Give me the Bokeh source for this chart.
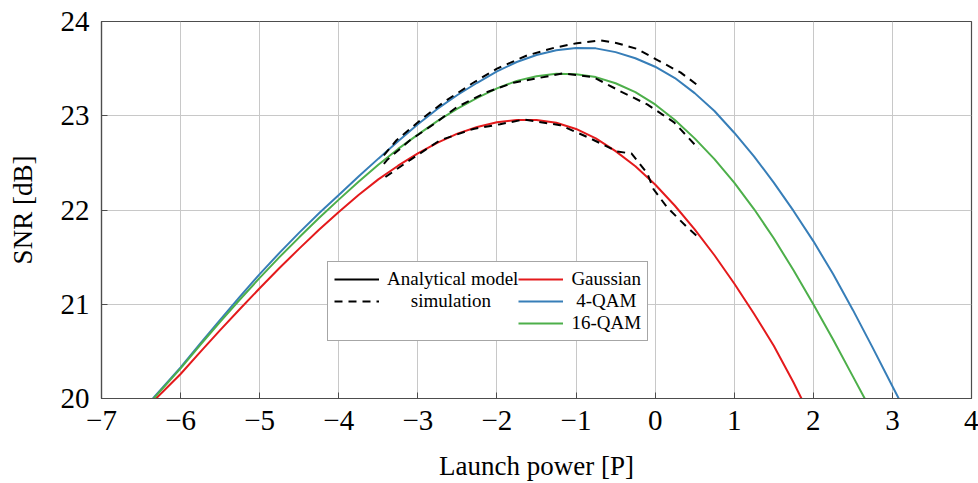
from bokeh.plotting import figure
from bokeh.models import Range1d, FixedTicker, Legend, LegendItem
from bokeh.embed import file_html
from bokeh.resources import INLINE

# ---------------- data ----------------
x_ticks = [-7, -6, -5, -4, -3, -2, -1, 0, 1, 2, 3, 4]
y_ticks = [20, 21, 22, 23, 24]

# Analytical model
gauss_x = [-6.31, -6, -5.75, -5.5, -5.25, -5, -4.75, -4.5, -4.25, -4, -3.75, -3.5, -3.25, -3,
           -2.75, -2.5, -2.25, -2, -1.75, -1.5, -1.25, -1, -0.75, -0.5, -0.25, 0,
           0.25, 0.5, 0.75, 1, 1.25, 1.5, 1.75, 1.85]
gauss_y = [20.0, 20.26, 20.495, 20.725, 20.95, 21.17, 21.385, 21.59, 21.79, 21.98, 22.16, 22.325, 22.47, 22.60,
           22.715, 22.81, 22.88, 22.93, 22.955, 22.955, 22.925, 22.86, 22.76, 22.625, 22.465, 22.27,
           22.045, 21.795, 21.52, 21.22, 20.90, 20.56, 20.17, 20.0]

qam4_x = [-6.35, -6, -5.75, -5.5, -5.25, -5, -4.75, -4.5, -4.25, -4, -3.75, -3.5, -3.25, -3,
          -2.75, -2.5, -2.25, -2, -1.75, -1.5, -1.25, -1, -0.75, -0.5, -0.25, 0,
          0.25, 0.5, 0.75, 1, 1.25, 1.5, 1.75, 2, 2.25, 2.5, 2.75, 3, 3.08]
qam4_y = [20.0, 20.33, 20.585, 20.835, 21.08, 21.32, 21.545, 21.76, 21.965, 22.16, 22.355, 22.545, 22.73, 22.91,
          23.075, 23.22, 23.35, 23.47, 23.57, 23.645, 23.695, 23.72, 23.715, 23.675, 23.61, 23.52,
          23.40, 23.24, 23.05, 22.82, 22.57, 22.29, 21.99, 21.67, 21.32, 20.94, 20.54, 20.13, 20.0]

qam16_x = [-6.34, -6, -5.75, -5.5, -5.25, -5, -4.75, -4.5, -4.25, -4, -3.75, -3.5, -3.25, -3,
           -2.75, -2.5, -2.25, -2, -1.75, -1.5, -1.25, -1, -0.75, -0.5, -0.25, 0,
           0.25, 0.5, 0.75, 1, 1.25, 1.5, 1.75, 2, 2.25, 2.5, 2.65]
qam16_y = [20.0, 20.32, 20.57, 20.813, 21.05, 21.28, 21.50, 21.71, 21.915, 22.11, 22.30, 22.48, 22.648, 22.80,
           22.945, 23.075, 23.19, 23.29, 23.37, 23.42, 23.445, 23.44, 23.41, 23.345, 23.25, 23.12,
           22.955, 22.76, 22.54, 22.29, 22.01, 21.70, 21.36, 21.0, 20.625, 20.235, 20.0]

# Simulation
sim4_x = [-3.43, -3.27, -2.93, -2.68, -2.30, -2.0, -1.62, -1.28, -0.99, -0.69, -0.48, -0.23, 0.03, 0.32, 0.56]
sim4_y = [22.58, 22.74, 22.98, 23.14, 23.35, 23.50, 23.64, 23.72, 23.77, 23.80, 23.77, 23.71, 23.59, 23.46, 23.31]

sim16_x = [-3.43, -3.39, -3.10, -2.80, -2.51, -2.13, -1.79, -1.54, -1.16, -0.78, -0.44, -0.10, 0.24, 0.55]
sim16_y = [22.49, 22.53, 22.74, 22.91, 23.09, 23.25, 23.35, 23.39, 23.45, 23.41, 23.26, 23.12, 22.93, 22.65]

simg_x = [-3.41, -3.10, -2.72, -2.30, -1.96, -1.66, -1.20, -0.82, -0.48, -0.30, -0.10, -0.02, 0.15, 0.40, 0.56]
simg_y = [22.35, 22.53, 22.74, 22.86, 22.91, 22.96, 22.90, 22.76, 22.62, 22.60, 22.39, 22.22, 22.03, 21.82, 21.70]

RED = "#e41a1c"
BLUE = "#377eb8"
GREEN = "#4daf4a"
FONT = "Liberation Serif"
FRAME = "#4d4d4d"
DASH = "8 6"

p = figure(width=978, height=483, output_backend="svg", toolbar_location=None,
           x_range=Range1d(-7, 4), y_range=Range1d(20, 24),
           min_border_left=101, min_border_right=7, min_border_top=21, min_border_bottom=84,
           x_axis_label="Launch power [P]", y_axis_label="SNR [dB]")
p.background_fill_color = "white"
p.border_fill_color = "white"
p.outline_line_color = FRAME
p.outline_line_width = 1.2

def minus(v):
    return ("\u2212" + str(abs(v))) if v < 0 else str(v)

for ax, ticks in ((p.xaxis[0], x_ticks), (p.yaxis[0], y_ticks)):
    ax.ticker = FixedTicker(ticks=ticks)
    ax.major_label_overrides = {t: minus(t) for t in ticks}
    ax.major_label_text_font = FONT
    ax.major_label_text_font_size = "29px"
    ax.major_label_text_color = "black"
    ax.axis_label_text_font = FONT
    ax.axis_label_text_font_size = "27px"
    ax.axis_label_text_font_style = "normal"
    ax.axis_label_text_color = "black"
    ax.major_tick_in = 6
    ax.major_tick_out = 0
    ax.minor_tick_line_color = None
    ax.major_tick_line_color = FRAME
    ax.axis_line_color = FRAME
    ax.axis_line_width = 1.2
    ax.major_label_standoff = 12

p.xaxis[0].axis_label_standoff = 18
p.yaxis[0].axis_label_standoff = 20

p.xgrid.ticker = FixedTicker(ticks=x_ticks)
p.ygrid.ticker = FixedTicker(ticks=y_ticks)
p.grid.grid_line_color = "#c8c8c8"
p.grid.grid_line_width = 1

# analytical curves
r_g = p.line(gauss_x, gauss_y, line_color=RED, line_width=2)
r_4 = p.line(qam4_x, qam4_y, line_color=BLUE, line_width=2)
r_16 = p.line(qam16_x, qam16_y, line_color=GREEN, line_width=2)

# simulation curves
r_dash = p.line(sim4_x, sim4_y, line_color="black", line_width=2, line_dash=DASH)
p.line(sim16_x, sim16_y, line_color="black", line_width=2, line_dash=DASH)
p.line(simg_x, simg_y, line_color="black", line_width=2, line_dash=DASH)

# legend proxies (no visible data)
nan = float("nan")
r_solid = p.line([nan], [nan], line_color="black", line_width=2)
r_blank = p.line([nan], [nan], line_alpha=0)

nb = "\u00a0"
legend = Legend(items=[
    LegendItem(label="Analytical model", renderers=[r_solid]),
    LegendItem(label=nb * 5 + "simulation", renderers=[r_dash]),
    LegendItem(label=nb, renderers=[r_blank]),
    LegendItem(label="Gaussian", renderers=[r_g]),
    LegendItem(label=nb + "4-QAM", renderers=[r_4]),
    LegendItem(label="16-QAM", renderers=[r_16]),
], orientation="vertical", nrows=3, location=(226, 57))
legend.label_text_font = FONT
legend.label_text_font_size = "19px"
legend.label_text_color = "black"
legend.glyph_width = 45
legend.glyph_height = 18
legend.label_height = 18
legend.label_standoff = 8
legend.spacing = 0
legend.padding = 6
legend.margin = 0
legend.border_line_color = FRAME
legend.border_line_width = 1.2
legend.background_fill_color = "white"
legend.background_fill_alpha = 1
p.add_layout(legend, "center")

open("out.html", "w").write(file_html(p, INLINE))
